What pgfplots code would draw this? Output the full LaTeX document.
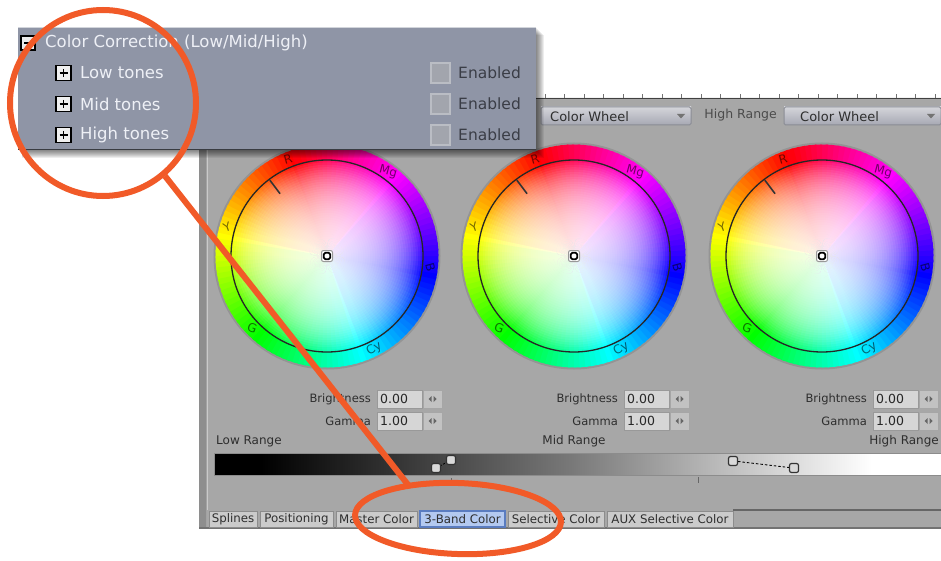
\documentclass[border=0pt]{standalone}
\usepackage{fontspec}
\setmainfont{DejaVu Sans}
\usepackage{pgfplots}
\pgfplotsset{compat=1.18}

\definecolor{panel}{HTML}{A7A7A7}
\definecolor{panelstrip}{HTML}{8E8E8E}
\definecolor{popup}{HTML}{8F95A6}
\definecolor{popuptext}{HTML}{EEF0F6}
\definecolor{enabled}{HTML}{3A3D46}
\definecolor{checkfill}{HTML}{A2A5AD}
\definecolor{checkedge}{HTML}{BABDC4}
\definecolor{annot}{HTML}{F15A28}
\definecolor{tabfill}{HTML}{CBCBCB}
\definecolor{tabedge}{HTML}{8C8C8C}
\definecolor{tabsel}{HTML}{B3C9F0}
\definecolor{tabseledge}{HTML}{5A7CC0}
\definecolor{fieldfill}{HTML}{D6D6D6}
\definecolor{btnfill}{HTML}{C2C2C2}
\definecolor{darktext}{HTML}{2E2E2E}
\definecolor{ddtop}{HTML}{D4D5DA}
\definecolor{ddbot}{HTML}{A6A8B3}
\definecolor{ddedge}{HTML}{8A8C94}

\newcommand{\fs}[1]{\fontsize{#1}{#1}\selectfont}

% colour wheel centred at (#1,#2), pixel units
\newcommand{\colorwheel}[2]{%
  \fill[black!42] (#1,#2) circle[radius=113.5pt];
  \foreach \h in {0,3,...,357}{%
    \definecolor{hc}{Hsb}{\h,1,1}%
    \pgfmathsetmacro\wa{110+\h-2.1}%
    \pgfmathsetmacro\wb{110+\h+2.1}%
    \fill[hc] (#1,#2) -- ({#1+111.5*cos(\wa)},{#2-111.5*sin(\wa)}) -- ({#1+111.5*cos(\wb)},{#2-111.5*sin(\wb)}) -- cycle;
  }%
  \foreach \k in {1,...,40}{\fill[white,opacity=0.065] (#1,#2) circle[radius=\k*2.4pt];}%
  \draw[black!85,line width=1.3pt] (#1,#2) circle[radius=96pt];
  \draw[black!80,line width=1.6pt] ({#1+78*cos(127)},{#2-78*sin(127)}) -- ({#1+95*cos(127)},{#2-95*sin(127)});
  \foreach \a/\rot/\lab in {112/15/R,54/-15/Mg,-6/-75/B,-63/30/Cy,224/-20/G,164/20/Y}{%
    \node[text=black,opacity=0.55,font=\fs{12},rotate=\rot,inner sep=0pt] at ({#1+104*cos(\a)},{#2-104*sin(\a)}) {\lab};}%
  \draw[black!40,line width=1pt,fill=white,rounded corners=2pt] ({#1-5.5},{#2-5.5}) rectangle ({#1+5.5},{#2+5.5});
  \draw[black,line width=1.8pt,rounded corners=1.5pt] ({#1-3.2},{#2-3.2}) rectangle ({#1+3.2},{#2+3.2});
}

% dropdown from x=#1 to #2, text starting at #3
\newcommand{\dropdown}[3]{%
  \shade[top color=ddtop,bottom color=ddbot] (#1,107) rectangle (#2,125);
  \draw[ddedge,line width=1pt,rounded corners=1.5pt] (#1,107) rectangle (#2,125);
  \node[anchor=west,inner sep=0pt,font=\fs{13},text=darktext] at (#3,116.5) {Color Wheel};
  \fill[black!55] ({#2-14},114) -- ({#2-6},114) -- ({#2-10},118.5) -- cycle;
}

% brightness / gamma fields shifted by #1
\newcommand{\fieldpair}[1]{%
  \node[anchor=east,inner sep=0pt,font=\fs{11.5},text=darktext] at ({371+#1},399) {Brightness};
  \node[anchor=east,inner sep=0pt,font=\fs{11.5},text=darktext] at ({371+#1},421) {Gamma};
  \foreach \y/\val in {399/0.00,421/1.00}{%
    \draw[fill=fieldfill,draw=black!40,line width=0.8pt] ({377+#1},{\y-9}) rectangle ({422+#1},{\y+9});
    \node[anchor=west,inner sep=0pt,font=\fs{12.5},text=black!85] at ({380+#1},\y) {\val};
    \draw[fill=btnfill,draw=black!35,line width=0.8pt] ({423+#1},{\y-9}) rectangle ({442+#1},{\y+9});
    \fill[black!60] ({428.5+#1},\y) -- ({431.5+#1},{\y-3}) -- ({431.5+#1},{\y+3}) -- cycle;
    \fill[black!60] ({436.5+#1},\y) -- ({433.5+#1},{\y-3}) -- ({433.5+#1},{\y+3}) -- cycle;}%
}

\newcommand{\tab}[4][tabfill]{%
  \draw[draw=tabedge,fill=#1,line width=1pt] (#2,511) rectangle (#3,527);
  \node[font=\fs{11.8},text=darktext,inner sep=0pt] at ({(#2+#3)/2},519) {#4};
}

\newcommand{\ctrlpt}[2]{%
  \draw[black!80,fill=black!15,line width=1.2pt,rounded corners=2pt] ({#1-4.5},{#2-4.5}) rectangle ({#1+4.5},{#2+4.5});
}

\begin{document}
\begin{tikzpicture}
\begin{axis}[
  width=941pt, height=561pt, scale only axis,
  xmin=0, xmax=941, ymin=0, ymax=561,
  y dir=reverse, hide axis, clip=false,
]
% background and main panel
\addplot[draw=none,fill=white] coordinates {(0,0) (941,0) (941,561) (0,561) (0,0)};
\addplot[draw=none,fill=panel] coordinates {(199,98) (941,98) (941,528) (199,528) (199,98)};
\addplot[draw=none,fill=panelstrip] coordinates {(199,98) (206,98) (206,528) (199,528) (199,98)};

\pgfplotsextra{
  % ruler along the top edge
  \draw[black!75,line width=1.5pt] (536,98.5) -- (941,98.5);
  \foreach \x in {545,564.5,...,941}{\draw[black!55,line width=0.8pt] (\x,98) -- (\x,94.5);}
  \draw[white!40!panel,line width=1pt] (207,98) -- (207,510);

  % wheels
  \colorwheel{327}{256}
  \colorwheel{574}{256}
  \colorwheel{822}{256}

  % dropdowns
  \dropdown{541}{691}{550}
  \dropdown{784}{941}{800}
  \node[anchor=east,inner sep=0pt,font=\fs{12.5},text=black!70] at (777,115.5) {High Range};

  % fields
  \fieldpair{0}
  \fieldpair{247}
  \fieldpair{496}

  % range bar
  \node[anchor=west,inner sep=0pt,font=\fs{12},text=darktext] at (216,441) {Low Range};
  \node[inner sep=0pt,font=\fs{12},text=darktext] at (574,441) {Mid Range};
  \node[anchor=east,inner sep=0pt,font=\fs{12},text=darktext] at (939,441) {High Range};
  \fill[black] (214,453) rectangle (262,475);
  \shade[left color=black,right color=black!52] (261,453) rectangle (576,475);
  \shade[left color=black!52,right color=white] (575,453) rectangle (872,475);
  \fill[white] (871,453) rectangle (941,475);
  \draw[black!45,line width=0.8pt] (214,453) rectangle (941,475);
  \draw[black,line width=0.8pt,dash pattern=on 2pt off 1.5pt] (440,466) -- (447,462);
  \draw[black,line width=0.9pt,dash pattern=on 2.5pt off 2pt] (738,461.5) -- (789,467.5);
  \ctrlpt{436}{468}
  \ctrlpt{451}{460}
  \ctrlpt{733}{461}
  \ctrlpt{794}{468}
  \draw[black!60,line width=0.8pt] (451,478) -- (451,483);
  \draw[black!60,line width=0.8pt] (698,477) -- (698,483);

  % tabs
  \draw[black!60,line width=1.5pt] (733,510) -- (941,510);
  \draw[black!55,line width=1.5pt] (199,528) -- (941,528);
  \tab{209}{257}{Splines}
  \tab{260}{333}{Positioning}
  \tab{336}{417}{Master Color}
  \draw[draw=tabseledge,fill=tabsel,line width=1.2pt] (420,511) rectangle (505,527);
  \node[font=\fs{11.8},text=darktext,inner sep=0pt] at (462.5,519) {3-Band Color};
  \tab{508}{604}{Selective Color}
  \tab{607}{733}{AUX Selective Color}

  % popup with shadow
  \foreach \i in {1,...,8}{\fill[black,opacity=0.07] (22,{27+\i}) rectangle ({536+\i},{150+\i});}
  \fill[popup] (18,27) rectangle (536,150);
  \draw[white!60!popup,line width=1pt] (18,27.5) -- (536,27.5);
  \draw[black!60!popup,line width=1pt] (18,149.5) -- (536,149.5);
  \draw[black,line width=1.2pt,fill=white!85!gray] (21,36) rectangle (35,50);
  \draw[black,line width=1.5pt] (24,43) -- (32,43);
  \node[anchor=west,inner sep=0pt,font=\fs{16.5},text=popuptext] at (45,43) {Color Correction (Low/Mid/High)};
  \foreach \y/\lab in {73/Low tones,104/Mid tones,135/High tones}{%
    \draw[black,line width=1.2pt,fill=white!88!gray] (56,{\y-7.5}) rectangle (71,{\y+7.5});
    \draw[black,line width=1.5pt] (59.5,\y) -- (67.5,\y) (63.5,{\y-4}) -- (63.5,{\y+4});
    \node[anchor=west,inner sep=0pt,font=\fs{16.5},text=popuptext] at (80,\y) {\lab};
    \draw[fill=checkfill,draw=checkedge,line width=1.5pt] (431,{\y-10}) rectangle (450,{\y+10});
    \node[anchor=west,inner sep=0pt,font=\fs{15.5},text=enabled] at (458,\y) {Enabled};
  }

  % orange annotations
  \draw[annot,line width=6pt] (103,103) circle[radius=93pt];
  \draw[annot,line width=6pt] (165,176) -- (409,486);
  \draw[annot,line width=6pt,rotate around={-2:(axis cs:458,518.5)}] (458,518.5) ellipse[x radius=103pt,y radius=35.5pt];
}
\end{axis}
\pgfresetboundingbox
\useasboundingbox (current axis.south west) rectangle (current axis.north east);
\end{tikzpicture}
\end{document}
